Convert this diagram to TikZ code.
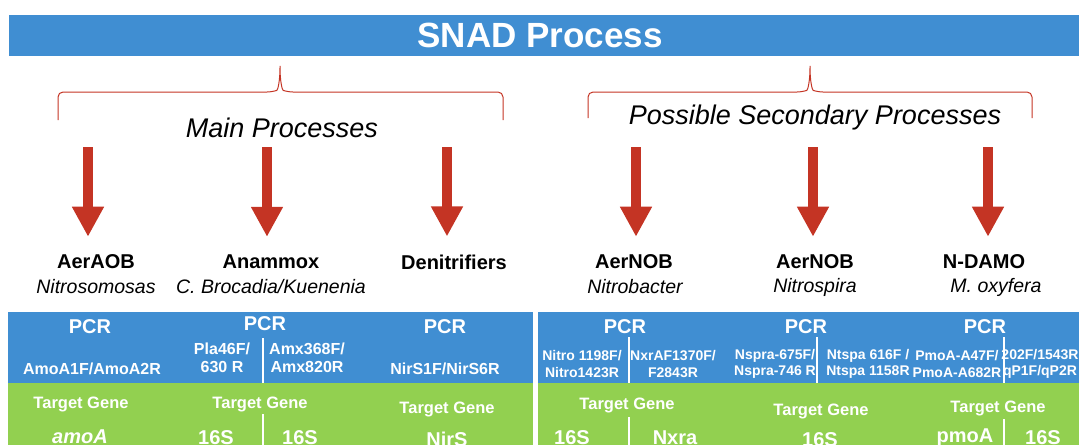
\documentclass[tikz,border=0pt]{standalone}
\usepackage{fontspec}
\setmainfont{Liberation Sans}
\usetikzlibrary{arrows.meta,positioning}
\definecolor{barblue}{RGB}{64,142,210}
\definecolor{genegreen}{RGB}{146,208,80}
\definecolor{arrred}{RGB}{196,52,36}

\begin{document}
\begin{tikzpicture}[x=1pt,y=-1pt,
  hdr/.style={font=\fontsize{35}{36}\selectfont\bfseries,text=white},
  grp/.style={font=\fontsize{27}{30}\selectfont\itshape,inner sep=0pt},
  org/.style={font=\fontsize{20}{22}\selectfont\bfseries,inner sep=0pt},
  spc/.style={font=\fontsize{19.5}{22}\selectfont\itshape,inner sep=0pt},
  pcr/.style={font=\fontsize{20}{22}\selectfont\bfseries,text=white,inner sep=0pt},
  prm/.style={font=\fontsize{16}{18}\selectfont\bfseries,text=white,align=center,inner sep=0pt},
  prms/.style={prm,font=\fontsize{14}{16.5}\selectfont\bfseries},
  tg/.style={font=\fontsize{16.5}{18}\selectfont\bfseries,text=white,inner sep=0pt},
  gv/.style={font=\fontsize{20}{22}\selectfont\bfseries,text=white,inner sep=0pt},
  brc/.style={draw=arrred,line width=1pt,rounded corners=5pt},
  bigarr/.style={draw=arrred,line width=10pt,shorten >=18pt,-{Triangle[width=30pt,length=30pt]}},
  sep/.style={draw=white,line width=1.2pt}]
  \useasboundingbox (0,0) rectangle (1079,445);
  \clip (0,0) rectangle (1079,445);
  % title bar
  \fill[barblue] (9,15) rectangle (1079,56);
  \node[hdr] (title) at (540,35) {SNAD Process};
  % braces
  \draw[brc] (58,120) -- (58,92) -- (272,92) .. controls (278,90) and (280,80) .. (280,63)
    .. controls (280,80) and (282,90) .. (288,92) -- (503,92) -- (503,120);
  \draw[brc] (588,118) -- (588,92) -- (802,92) .. controls (808,90) and (810,80) .. (810,63)
    .. controls (810,80) and (812,90) .. (818,92) -- (1032,92) -- (1032,118);
  \node[grp] (mainp) at (282,128) {Main Processes};
  \node[grp] (secp) at (815,118) {Possible Secondary Processes};
  % organisms
  \node[org] (aob) at (96,262) {AerAOB};
  \node[org] (amx) at (271,262) {Anammox};
  \node[org] (den) at (454,262) {Denitrifiers};
  \node[org] (nob1) at (634,262) {AerNOB};
  \node[org] (nob2) at (815,262) {AerNOB};
  \node[org] (damo) at (984,262) {N-DAMO};
  \node[spc] (aobsp) at (96,287) {Nitrosomosas};
  \node[spc] (amxsp) at (271,287) {C. Brocadia/Kuenenia};
  \node[spc] (nob1sp) at (635,287) {Nitrobacter};
  \node[spc] (nob2sp) at (815,287) {Nitrospira};
  \node[spc] (damosp) at (996,287) {M. oxyfera};
  \foreach \n/\x in {aob/88,amx/267,den/447,nob1/636,nob2/813,damo/988}{
    \coordinate (top-\n) at (\x,147);
    \draw[bigarr] (top-\n) -- (top-\n |- \n.north);}
  % table
  \fill[barblue] (8,312) rectangle (533,383);
  \fill[barblue] (538,312) rectangle (1079,383);
  \fill[genegreen] (8,383) rectangle (533,445);
  \fill[genegreen] (538,383) rectangle (1079,445);
  \draw[sep] (263,338) -- (263,383) (263,414) -- (263,445);
  \draw[sep] (629,337) -- (629,383) (629,417) -- (629,445);
  \draw[sep] (817,337) -- (817,383);
  \draw[sep] (1004,337) -- (1004,383) (1004,419) -- (1004,445);
  \node[pcr] (pcr1) at (90,327) {PCR};
  \node[pcr] (pcr2) at (265,324) {PCR};
  \node[pcr] (pcr3) at (445,327) {PCR};
  \node[pcr] (pcr4) at (625,327) {PCR};
  \node[pcr] (pcr5) at (806,327) {PCR};
  \node[pcr] (pcr6) at (985,327) {PCR};
  \node[prm] (p1) at (92,369) {AmoA1F/AmoA2R};
  \node[prm] (p2) at (222,358) {Pla46F/\\630 R};
  \node[prm] (p3) at (307,358) {Amx368F/\\Amx820R};
  \node[prm] (p4) at (445,369) {NirS1F/NirS6R};
  \node[prms] (p5) at (582,364) {Nitro 1198F/\\Nitro1423R};
  \node[prms] (p6) at (673,364) {NxrAF1370F/\\F2843R};
  \node[prms] (p7) at (775,364) {Nspra-675F/\\Nspra-746 R};
  \node[prms] (p8) at (868,364) {Ntspa 616F /\\Ntspa 1158R};
  \node[prms] (p9) at (957,364) {PmoA-A47F/\\PmoA-A682R};
  \node[prms] (p10) at (1040,364) {202F/1543R\\qP1F/qP2R};
  \node[tg] (tg1) at (81,404) {Target Gene};
  \node[tg] (tg2) at (260,404) {Target Gene};
  \node[tg] (tg3) at (447,409) {Target Gene};
  \node[tg] (tg4) at (627,405) {Target Gene};
  \node[tg] (tg5) at (821,411) {Target Gene};
  \node[tg] (tg6) at (998,408) {Target Gene};
  \node[gv,font=\fontsize{20}{22}\selectfont\bfseries\itshape] (g1) at (80,437) {amoA};
  \node[gv] (g2) at (216,438) {16S};
  \node[gv] (g3) at (300,438) {16S};
  \node[gv] (g4) at (447,439) {NirS};
  \node[gv] (g5) at (572,438) {16S};
  \node[gv] (g6) at (675,438) {Nxra};
  \node[gv] (g7) at (820,440) {16S};
  \node[gv] (g8) at (965,438) {pmoA};
  \node[gv] (g9) at (1043,438) {16S};
\end{tikzpicture}
\end{document}
